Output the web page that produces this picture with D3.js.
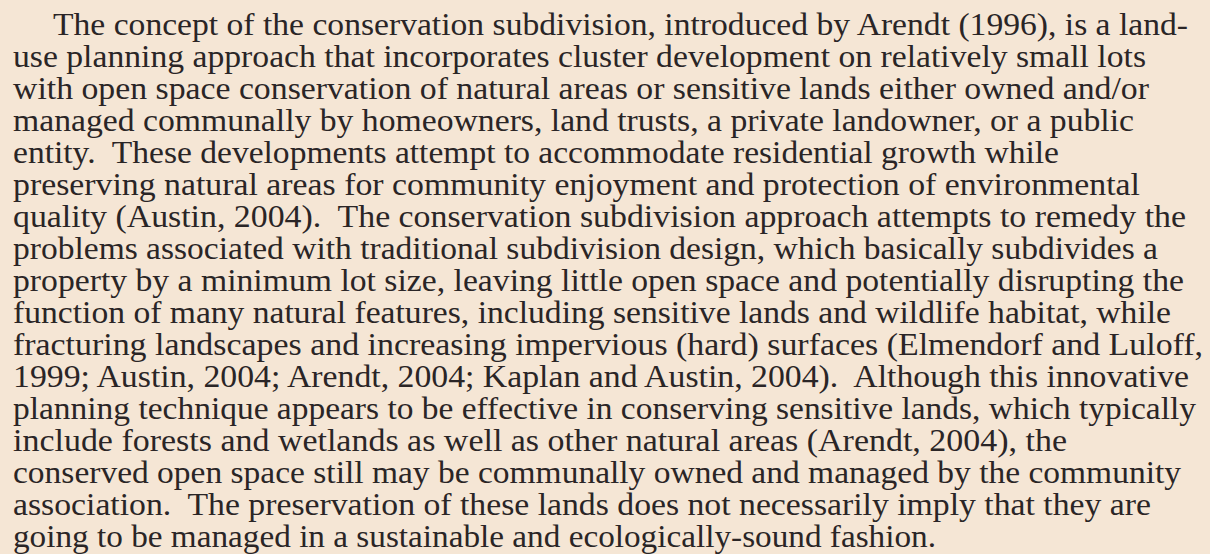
<!DOCTYPE html>
<html>
<head>
<meta charset="utf-8">
<script src="https://cdn.jsdelivr.net/npm/d3@7"></script>
<style>
  html, body { margin: 0; padding: 0; background: #f5e6d5; }
  text.line { font-family: 'Liberation Serif', 'Times New Roman', Times, serif; }
</style>
</head>
<body>
<div id="chart-area"></div>
<script>
var width = 1210;
var height = 554;

// one entry per printed line
var lines = [
  'The concept of the conservation subdivision, introduced by Arendt (1996), is a land-',
  'use planning approach that incorporates cluster development on relatively small lots',
  'with open space conservation of natural areas or sensitive lands either owned and/or',
  'managed communally by homeowners, land trusts, a private landowner, or a public',
  'entity.  These developments attempt to accommodate residential growth while',
  'preserving natural areas for community enjoyment and protection of environmental',
  'quality (Austin, 2004).  The conservation subdivision approach attempts to remedy the',
  'problems associated with traditional subdivision design, which basically subdivides a',
  'property by a minimum lot size, leaving little open space and potentially disrupting the',
  'function of many natural features, including sensitive lands and wildlife habitat, while',
  'fracturing landscapes and increasing impervious (hard) surfaces (Elmendorf and Luloff,',
  '1999; Austin, 2004; Arendt, 2004; Kaplan and Austin, 2004).  Although this innovative',
  'planning technique appears to be effective in conserving sensitive lands, which typically',
  'include forests and wetlands as well as other natural areas (Arendt, 2004), the',
  'conserved open space still may be communally owned and managed by the community',
  'association.  The preservation of these lands does not necessarily imply that they are',
  'going to be managed in a sustainable and ecologically-sound fashion.'
];

// where each line starts and ends
var lineStarts = [53, 13, 13, 13, 13, 13, 13, 13, 13, 13, 13, 13, 13, 13, 13, 13, 13];
var lineEnds = [1188, 1146, 1149, 1134, 1059, 1140, 1186, 1158, 1184, 1171, 1203, 1189, 1196, 1067, 1181, 1151, 936];

var svg = d3.select('#chart-area')
  .append('svg')
  .attr('width', width)
  .attr('height', height);

svg.append('rect')
  .attr('width', width)
  .attr('height', height)
  .attr('fill', '#f5e6d5');

// baseline of each line
var y = d3.scalePoint()
  .domain(d3.range(lines.length))
  .range([35, 547]);

var x = d3.scaleLinear()
  .domain([0, width])
  .range([0, width]);

svg.selectAll('text.line')
  .data(lines)
  .enter()
  .append('text')
    .attr('class', 'line')
    .attr('x', function(d, i) { return x(lineStarts[i]); })
    .attr('y', function(d, i) { return y(i); })
    .attr('font-size', '31px')
    .attr('fill', '#2a2526')
    .style('white-space', 'pre')
    .attr('textLength', function(d, i) { return x(lineEnds[i]) - x(lineStarts[i]); })
    .attr('lengthAdjust', 'spacingAndGlyphs')
    .text(function(d) { return d; });
</script>
</body>
</html>
